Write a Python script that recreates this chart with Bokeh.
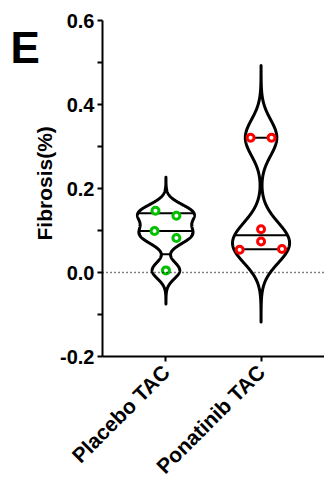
import numpy as np
from bokeh.plotting import figure
from bokeh.models import Range1d, FixedTicker, Label, Span, Title
from bokeh.embed import file_html
from bokeh.resources import INLINE

# ---- data ----
categories = ["Placebo TAC", "Ponatinib TAC"]
placebo = [0.147, 0.135, 0.099, 0.082, 0.005]
ponatinib = [0.321, 0.321, 0.103, 0.074, 0.054, 0.056]
colors = ["#00C000", "#FF0000"]
y_ticks = [-0.2, 0.0, 0.2, 0.4, 0.6]
y_minor = [-0.1, 0.1, 0.3, 0.5]
y_label = "Fibrosis(%)"
panel_letter = "E"

# layout / style parameters
jitter = [[-0.11, 0.11, -0.12, 0.11, 0.0], [-0.11, 0.11, 0.0, 0.0, -0.225, 0.22]]
bandwidths = [0.02, 0.043]
half_width = 0.3
FONT = "Liberation Sans"

p = figure(width=324, height=489, output_backend="svg", toolbar_location=None,
           x_range=Range1d(0.333, 2.667), y_range=Range1d(-0.2, 0.6),
           min_border_left=100, min_border_right=0, min_border_top=20, min_border_bottom=133)
p.outline_line_color = None
p.grid.visible = False
p.background_fill_color = "white"

# zero reference line
p.add_layout(Span(location=0, dimension="width", line_color="black",
                  line_dash="1 3", line_width=1.3))

groups = [placebo, ponatinib]
for i, vals in enumerate(groups):
    c = i + 1
    v = np.array(vals)
    bw = bandwidths[i]
    ys = np.linspace(v.min() - 4 * bw, v.max() + 4 * bw, 400)
    dens = np.exp(-0.5 * ((ys[:, None] - v[None, :]) / bw) ** 2).sum(axis=1)
    hw = half_width * dens / dens.max()
    xs_patch = np.concatenate([c + hw, (c - hw)[::-1]])
    ys_patch = np.concatenate([ys, ys[::-1]])
    p.patch(xs_patch, ys_patch, fill_color="white", line_color="black",
            line_width=3, line_join="round")
    q1, med, q3 = np.percentile(v, [25, 50, 75], method="weibull")
    for q in (q1, med, q3):
        w = np.interp(q, ys, hw)
        p.line([c - w, c + w], [q, q], line_color="black", line_width=2)
    px = [c + j for j in jitter[i]]
    p.scatter(px, vals, marker="circle", size=7, fill_color="white",
              line_color=colors[i], line_width=3)

# axes
xa = p.xaxis[0]
xa.ticker = FixedTicker(ticks=[1, 2])
xa.major_label_overrides = {1: categories[0], 2: categories[1]}
xa.major_label_orientation = np.pi / 4
xa.minor_tick_line_color = None
xa.major_tick_in = 0
xa.major_tick_out = 5
xa.major_tick_line_width = 2
xa.axis_line_width = 2
xa.major_label_text_font = FONT
xa.major_label_text_font_style = "bold"
xa.major_label_text_font_size = "21px"
xa.major_label_text_color = "black"
xa.major_label_standoff = 7

ya = p.yaxis[0]
ya.ticker = FixedTicker(ticks=y_ticks, minor_ticks=y_minor)
ya.major_label_overrides = {t: f"{t:.1f}" for t in y_ticks}
ya.major_tick_in = 0
ya.major_tick_out = 5
ya.minor_tick_in = 0
ya.minor_tick_out = 5
ya.major_tick_line_width = 2
ya.minor_tick_line_width = 2
ya.axis_line_width = 2
ya.major_label_text_font = FONT
ya.major_label_text_font_style = "bold"
ya.major_label_text_font_size = "20px"
ya.major_label_text_color = "black"
ya.major_label_standoff = 3

# y-axis title as a left-side Title (reads bottom to top)
p.add_layout(Title(text=y_label, align="left", offset=116, standoff=3,
                   text_font=FONT, text_font_style="bold", text_font_size="21px",
                   text_color="black"), "left")

# panel letter, placed in the left border panel (not clipped there)
p.add_layout(Label(x=10, y=309, x_units="screen", y_units="screen", text=panel_letter,
                   text_font=FONT, text_font_style="bold", text_font_size="44px",
                   text_color="black", text_baseline="alphabetic"), "left")

open("out.html", "w").write(file_html(p, INLINE))
